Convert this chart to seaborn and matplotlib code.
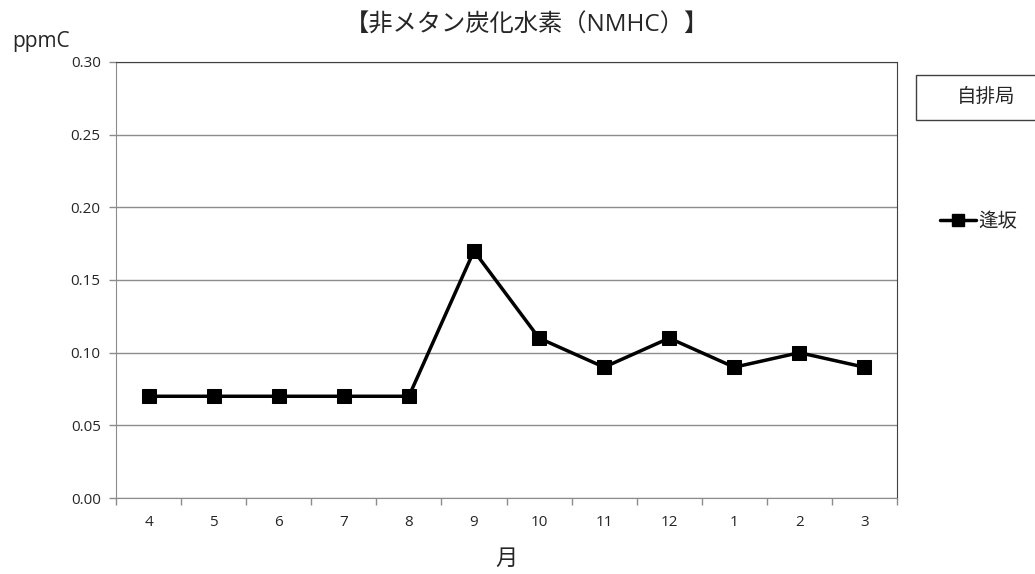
import matplotlib
matplotlib.use("Agg")
import matplotlib.pyplot as plt
from matplotlib.patches import Rectangle
import seaborn as sns
import pandas as pd
import numpy as np

# data
months = ["4", "5", "6", "7", "8", "9", "10", "11", "12", "1", "2", "3"]
nmhc = [0.07, 0.07, 0.07, 0.07, 0.07, 0.17, 0.11, 0.09, 0.11, 0.09, 0.10, 0.09]
station = "逢坂"
y_ticks = [0.00, 0.05, 0.10, 0.15, 0.20, 0.25, 0.30]

sns.set_style("white")
plt.rcParams["font.family"] = ["Open Sans", "Noto Sans CJK JP", "DejaVu Sans"]

df = pd.DataFrame({"month": months, "value": nmhc, "station": station})

fig = plt.figure(figsize=(10.35, 5.74), dpi=100)
ax = fig.add_axes([116 / 1035, 1 - 498 / 574, (897 - 116) / 1035, (498 - 62) / 574])

sns.lineplot(data=df, x="month", y="value", hue="station", palette=["black"],
             marker="s", markersize=10, linewidth=2.5, markeredgecolor="black",
             sort=False, ax=ax, legend=False)

ax.set_xlim(-0.5, len(months) - 0.5)
ax.set_ylim(0, 0.30)
ax.set_yticks(y_ticks)
ax.set_yticklabels([f"{v:.2f}" for v in y_ticks], fontsize=11)
ax.yaxis.grid(True, color="#8c8c8c", linewidth=1)
ax.set_axisbelow(True)

ax.set_xticks(range(len(months)))
ax.set_xticklabels(months, fontsize=11)
ax.set_xticks(np.arange(-0.5, len(months)), minor=True)
ax.tick_params(axis="x", which="major", bottom=True, length=0, pad=12)
ax.tick_params(axis="x", which="minor", bottom=True, length=5, width=1,
               color="#8c8c8c", direction="out")
ax.tick_params(axis="y", left=True, length=5, width=1, color="#8c8c8c",
               direction="out", pad=6)

for s in ["left", "bottom"]:
    ax.spines[s].set_color("#8c8c8c")
for s in ["top", "right"]:
    ax.spines[s].set_color("#404040")

ax.set_xlabel("月", fontsize=16, labelpad=14)
ax.set_ylabel("")
fig.text(12 / 1035, 1 - 42 / 574, "ppmC", fontsize=15, va="center", ha="left")
fig.text(527 / 1035, 1 - 26 / 574, "【非メタン炭化水素（NMHC）】", fontsize=17.5,
         ha="center", va="center")

# legend box and entry
fig.patches.append(Rectangle((916 / 1035, 1 - 120 / 574), 130 / 1035, 45 / 574,
                             transform=fig.transFigure, facecolor="white",
                             edgecolor="#404040", linewidth=1))
fig.text(986 / 1035, 1 - 97 / 574, "自排局", fontsize=14, ha="center", va="center")
handle = plt.Line2D([], [], color="black", marker="s", markersize=8, linewidth=2.5)
fig.legend([handle], [station], loc="center left",
           bbox_to_anchor=(922 / 1035, 1 - 222 / 574), frameon=False,
           fontsize=14, handlelength=1.9, handletextpad=0.1)

fig.savefig("out.png", dpi=100)
